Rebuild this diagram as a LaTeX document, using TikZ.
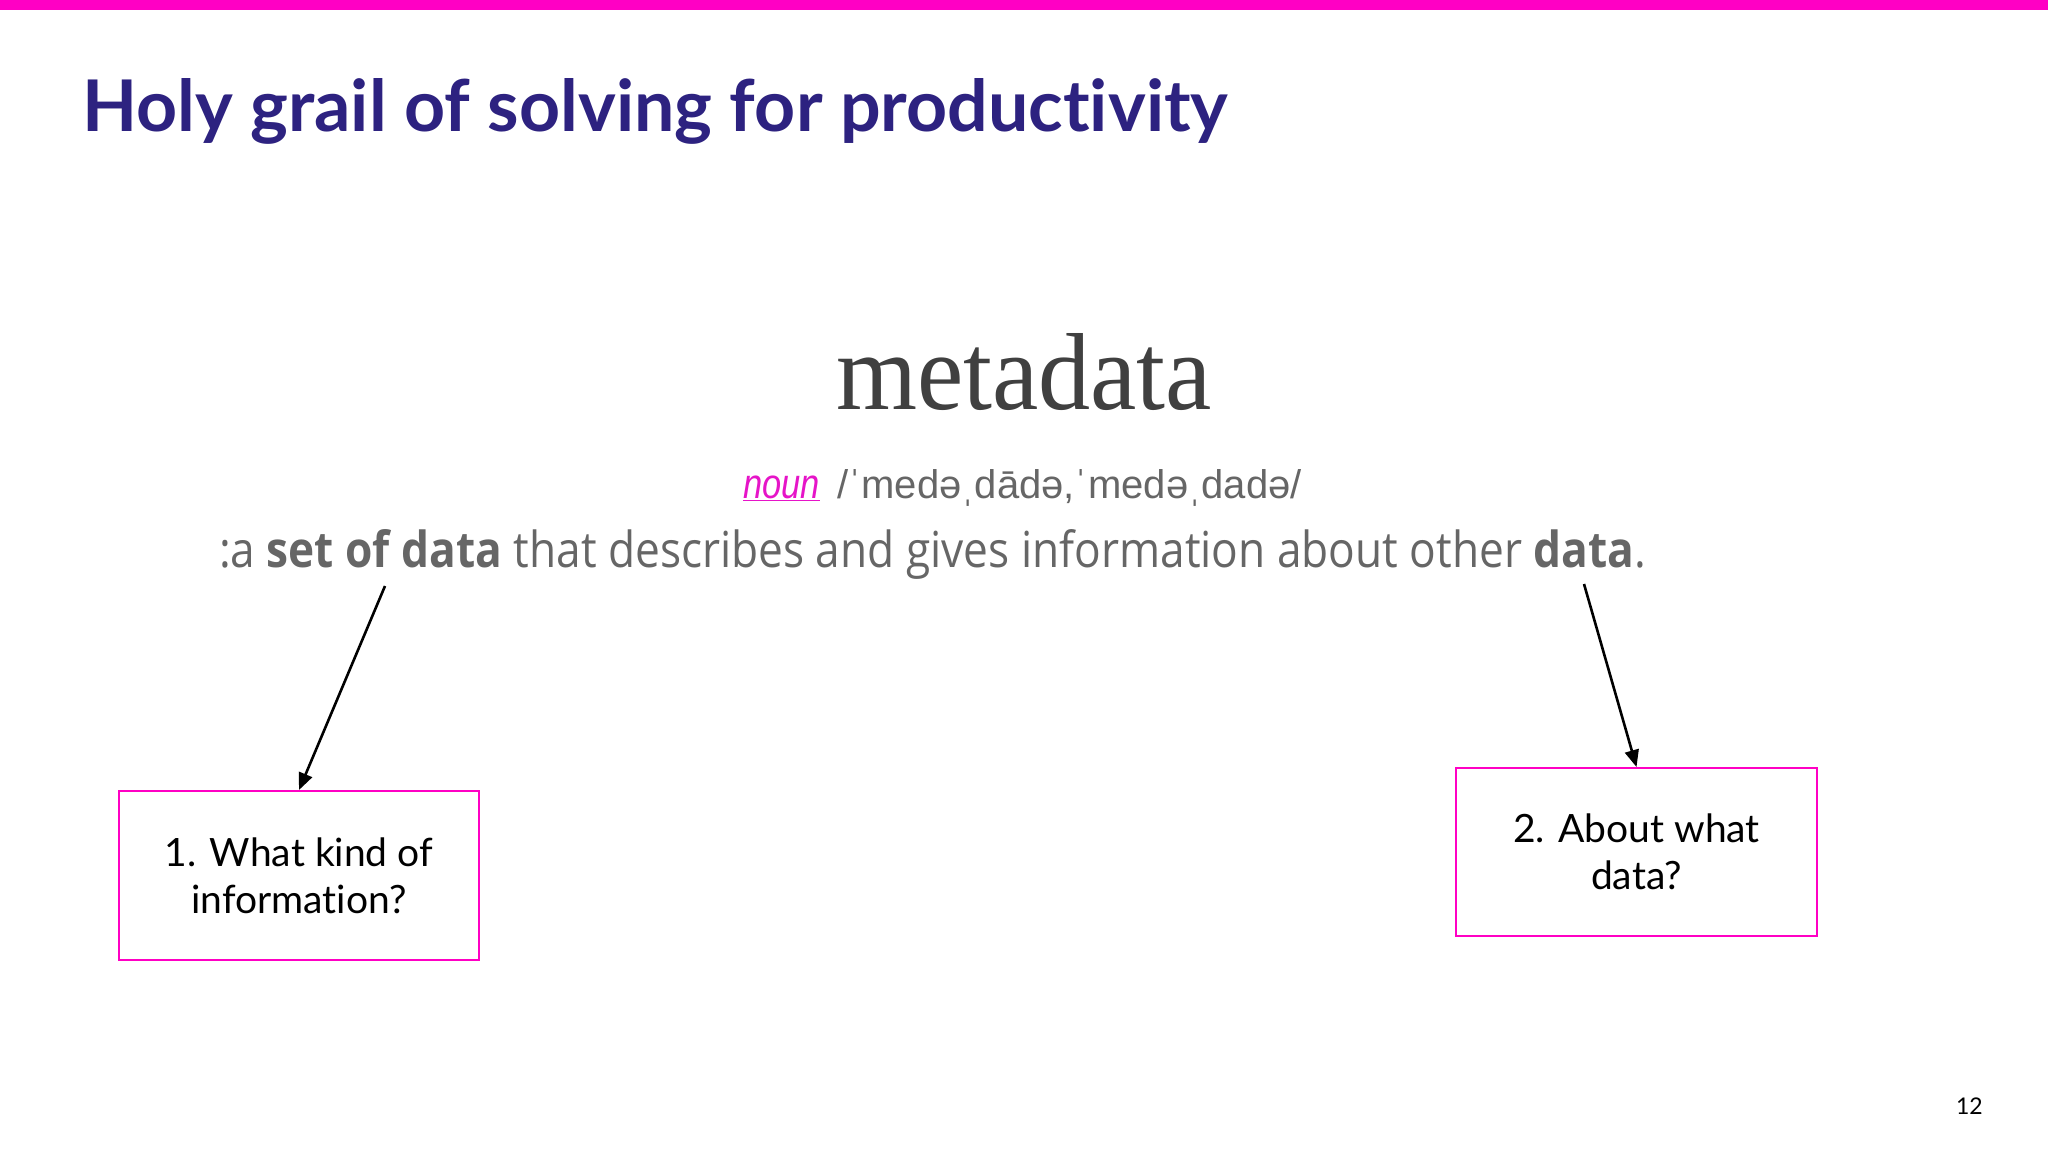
\documentclass[tikz,border=0pt]{standalone}
\usepackage{fontspec}
\setmainfont[Ligatures=NoCommon]{Lato}
\newfontfamily\defnfont{Open Sans}
\newfontfamily\serifword{Liberation Serif}
\newfontfamily\phonfont{Liberation Sans}
\usetikzlibrary{arrows.meta}
\definecolor{brandpink}{RGB}{255,0,196}
\definecolor{nounpink}{RGB}{230,20,200}
\definecolor{titleblue}{RGB}{45,34,128}
\definecolor{wordgrey}{RGB}{64,64,64}
\definecolor{textgrey}{RGB}{102,102,102}
\tikzset{
  txt/.style={anchor=base west, inner sep=0pt, outer sep=0pt},
  qbox/.style={draw=brandpink, line width=2pt, inner sep=0pt, align=center,
    font=\fontsize{39}{47}\selectfont, text=black},
  arr/.style={draw=black, line width=2.6pt, -{Triangle[length=17pt,width=14pt]}}
}
\begin{document}
\begin{tikzpicture}[x=1pt,y=-1pt]
\useasboundingbox (0,0) rectangle (2048,1152);
\fill[white] (0,0) rectangle (2048,1152);
\fill[brandpink] (0,0) rectangle (2048,10);

\node[txt, text=titleblue, font=\fontsize{74}{80}\selectfont\bfseries] (title) at (82,131)
  {\resizebox{1146pt}{53pt}{Holy grail of solving for productivity}};

\node[anchor=base, inner sep=0pt, text=wordgrey, font=\serifword\fontsize{120}{130}\selectfont] (word) at (1024,409)
  {\resizebox{376pt}{76pt}{metadata}};

\node[txt, text=nounpink, font=\phonfont\itshape\fontsize{42}{48}\selectfont] (noun) at (743,498)
  {\scalebox{0.82}[1]{\underline{noun}}};
\node[txt, text=textgrey, font=\phonfont\fontsize{40}{48}\selectfont] (phon) at (837,498)
  {/ˈmedəˌdādə,ˈmedəˌdadə/};

\node[txt, text=textgrey, font=\defnfont\fontsize{50}{56}\selectfont] (defn) at (219,567)
  {\resizebox{1427pt}{38pt}{:a \textbf{set of data} that describes and gives information about other \textbf{data}.}};

\node[qbox, minimum width=360pt, minimum height=169pt] (box1) at (299,875.5)
  {1. What kind of\\information?};
\node[qbox, minimum width=361pt, minimum height=168pt] (box2) at (1636.5,852)
  {2. About what\\data?};

\coordinate (s1) at (385,586);
\coordinate (s2) at (1584,584);
\draw[arr] (s1) -- (box1.north);
\draw[arr] (s2) -- (box2.north);

\node[txt, font=\fontsize{23}{26}\selectfont, text=black] (page) at (1956,1114) {12};
\end{tikzpicture}
\end{document}
